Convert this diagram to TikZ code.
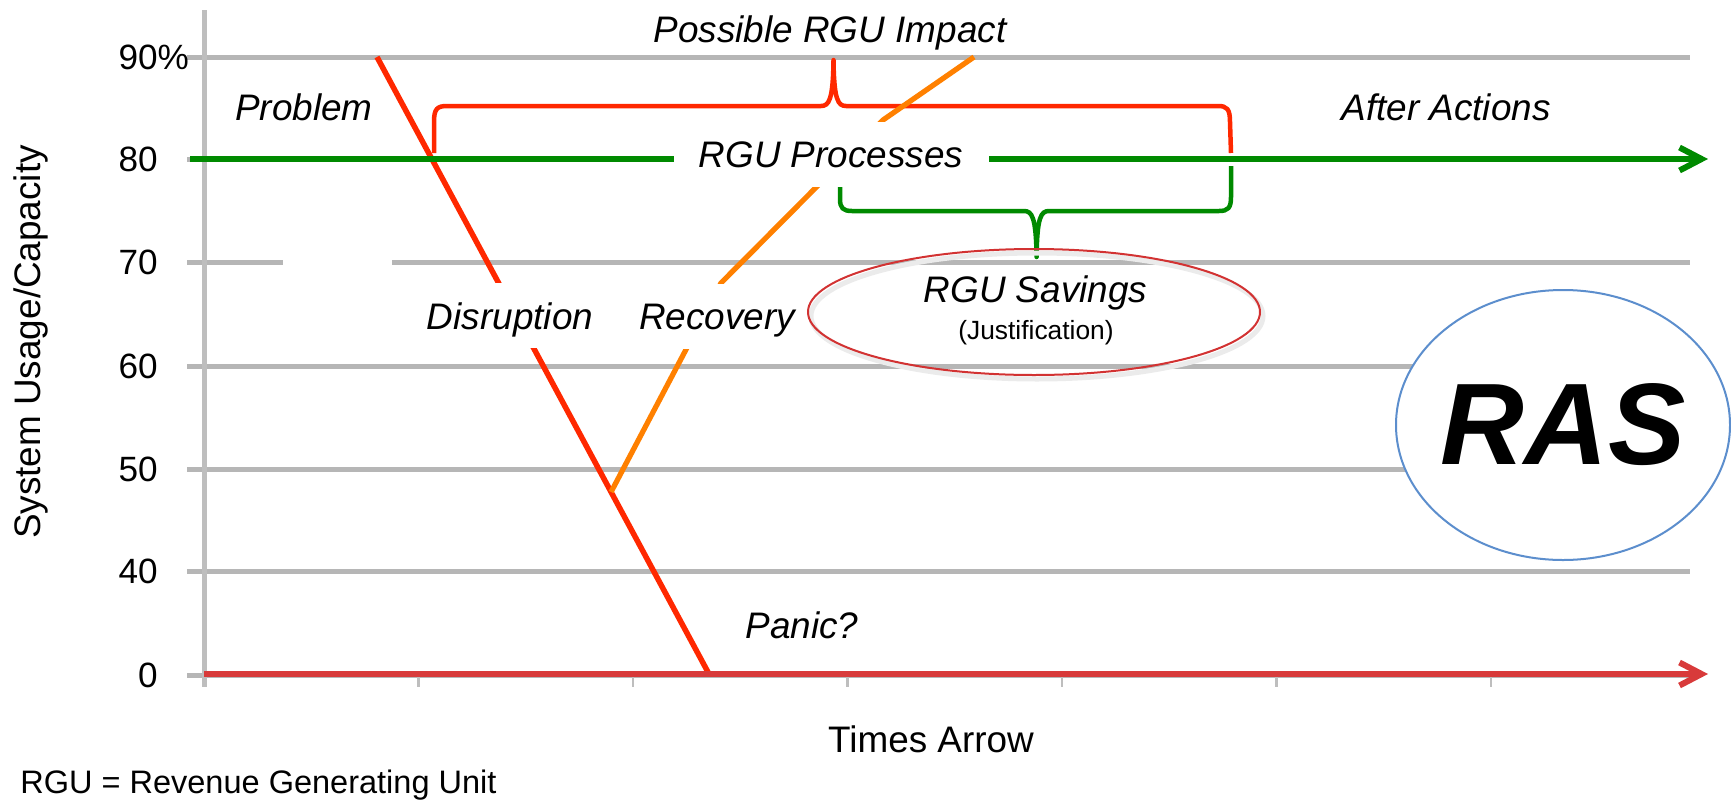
\documentclass[tikz,border=0pt]{standalone}
\usepackage{fontspec}
\setmainfont{Liberation Sans}
\usepackage{tikz}
\usetikzlibrary{arrows.meta,shapes.geometric,calc}
\definecolor{gridgray}{RGB}{182,182,182}
\definecolor{axisgray}{RGB}{190,190,190}
\definecolor{dropred}{RGB}{255,40,0}
\definecolor{axisred}{RGB}{216,58,58}
\definecolor{procgreen}{RGB}{0,138,0}
\definecolor{recorange}{RGB}{255,128,0}
\definecolor{savered}{RGB}{210,50,50}
\definecolor{rasblue}{RGB}{92,142,205}
\tikzset{gridline/.style={draw=gridgray, line width=1mm},
         axisline/.style={draw=axisgray, line width=1mm},
         tickline/.style={draw=axisgray, line width=0.5mm},
         ticklabel/.style={anchor=east, inner sep=0pt, font=\fontsize{20}{24}\selectfont},
         axistitle/.style={inner sep=0pt, font=\fontsize{21}{25}\selectfont},
         phase/.style={anchor=base, inner sep=0pt, font=\fontsize{21}{25}\selectfont\itshape},
         gapbox/.style={phase, fill=white, inner xsep=2mm, text depth=0pt, minimum height=13mm},
         bracepath/.style={line width=0.9mm, line join=round},
         runline/.style={line width=1.2mm, -{Straight Barb[length=4.4mm,width=4.6mm]}},
         savebubble/.style={ellipse, draw=savered, line width=0.4mm, minimum width=90.4mm, minimum height=25.2mm},
         rasbubble/.style={ellipse, draw=rasblue, fill=white, line width=0.4mm, minimum width=66.8mm, minimum height=54mm}}

\begin{document}
\begin{tikzpicture}[x=0.2mm,y=-0.2mm]
    \useasboundingbox (0,0) rectangle (1731,799);

    \foreach \y in {57,159,366,469,571,675}
        \draw[gridline] (187,\y) -- (1690,\y);
    \draw[gridline] (187,262) -- (283,262) (392,262) -- (1690,262);
    \draw[axisline] (204,10) -- (204,687);
    \foreach \x in {418.5,633,847.5,1062,1276.5,1491}
        \draw[tickline] (\x,675) -- (\x,687);
    \foreach \lab/\y in {90\rlap{\%}/57,80/159,70/262,60/366,50/469,40/571,0/675}
        \node[ticklabel] (y\y) at (158,\y) {\lab};

    \node[axistitle, rotate=90] (ytitle) at (31,342) {System Usage/Capacity};
    \node[axistitle, anchor=base] (xtitle) at (931,752) {Times Arrow};
    \node[axistitle, anchor=base west, font=\fontsize{18.5}{22}\selectfont] (note) at (20,793) {RGU = Revenue Generating Unit};

    \draw[bracepath, dropred] (434,153) -- (434,122) .. controls (434,109) and (437,106) .. (447,106)
        -- (821,106) .. controls (829,106) and (833,100) .. (833.5,60)
        .. controls (834,100) and (838,106) .. (846,106)
        -- (1218,106) .. controls (1227,106) and (1230,109) .. (1230,122) -- (1231,153);
    \draw[bracepath, procgreen] (840,185) -- (840,199) .. controls (840,208) and (843,211) .. (852,211)
        -- (1024,211) .. controls (1032,211) and (1036,217) .. (1036.6,257)
        .. controls (1037,217) and (1041,211) .. (1049,211)
        -- (1219,211) .. controls (1228,211) and (1231,208) .. (1231,197) -- (1231,166);

    \coordinate (probtop) at (377,57);
    \coordinate (crash) at (709,674);
    \coordinate (turn) at ($(probtop)!0.705!(crash)$);
    \coordinate (bendA) at (721,283);
    \coordinate (bendB) at (883,120);
    \coordinate (rectop) at (974,57);
    \draw[dropred, line width=1.1mm] (probtop) -- (crash);
    \draw[recorange, line width=1.05mm, line join=round] (turn) -- (bendA) -- (bendB) -- (rectop);

    \coordinate (gstart) at (190,159);
    \coordinate (gend) at (1708,159);
    \coordinate (tstart) at (204,674);
    \coordinate (tend) at (1708,674);
    \draw[runline, procgreen] (gstart) -- (gend);
    \draw[runline, axisred] (tstart) -- (tend);

    \node[gapbox, minimum width=63mm] (proc) at (831,167) {RGU Processes};
    \node[gapbox] (disr) at (510,329) {Disruption};
    \node[gapbox] (reco) at (717,329) {Recovery};

    \node[phase] (impact) at (830,42) {Possible RGU Impact};
    \node[phase] (prob) at (304,120) {Problem};
    \node[phase] (after) at (1446,120) {After Actions};
    \node[phase] (panic) at (802,638) {Panic?};

    \node[savebubble, draw=black!8, line width=1mm] (saveshade) at (1037,316) {};
    \node[savebubble] (save) at (1034,312) {};
    \node[phase] (savetxt) at (1035.5,302) {RGU Savings};
    \node[phase, font=\fontsize{15}{18}\selectfont] (just) at (1036,339.5) {(Justification)};

    \node[rasbubble] (rasring) at (1563,425) {};
    \node[inner sep=0pt, font=\fontsize{66}{70}\selectfont\bfseries\itshape] (ras) at (rasring) {RAS};
\end{tikzpicture}
\end{document}
